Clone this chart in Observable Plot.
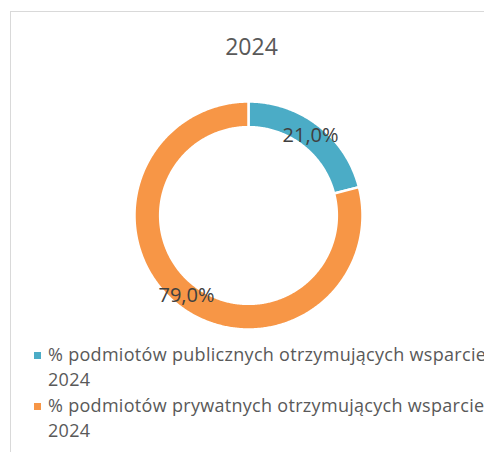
<!DOCTYPE html>
<html><head><meta charset="utf-8">
<script src="https://cdn.jsdelivr.net/npm/d3@7"></script>
<script src="https://cdn.jsdelivr.net/npm/@observablehq/plot@0.6"></script>
<style>
html,body{margin:0;padding:0;background:#fff;}
body{width:484px;height:452px;overflow:hidden;position:relative;font-family:"Open Sans",sans-serif;}
#frame{position:absolute;left:10px;top:11px;width:540px;height:480px;border:1px solid #d9d9d9;box-sizing:border-box;}
#title{position:absolute;left:0;width:503px;top:35px;text-align:center;font-size:23px;line-height:23px;color:#595959;}
#chart{position:absolute;left:0;top:90px;}
#legend{position:absolute;left:0;top:341.8px;}
.item{position:relative;padding-left:48px;white-space:nowrap;font-size:18px;line-height:25.5px;letter-spacing:0.3px;color:#595959;}
.sw{position:absolute;left:34px;top:10px;width:7px;height:7px;}
</style>
</head><body>
<div id="frame"></div>
<div id="title"></div>
<div id="chart"></div>
<div id="legend"></div>
<script>
const title = "2024";
const categories = [
  "% podmiotów publicznych otrzymujących wsparcie 2024",
  "% podmiotów prywatnych otrzymujących wsparcie 2024"
];
const values = [21.0, 79.0];
const colors = ["#4BACC6", "#F79646"];

document.getElementById("title").textContent = title;

const arcs = d3.pie().sort(null)(values);
const outerR = 1.0, innerR = 0.775;
const ringPts = [];
arcs.forEach((a, i) => {
  const name = categories[i];
  const n = Math.max(2, Math.ceil((a.endAngle - a.startAngle) / 0.01));
  const pts = [];
  for (let k = 0; k <= n; k++) {
    const t = a.startAngle + (a.endAngle - a.startAngle) * k / n;
    pts.push({name, x: outerR * Math.sin(t), y: outerR * Math.cos(t)});
  }
  for (let k = n; k >= 0; k--) {
    const t = a.startAngle + (a.endAngle - a.startAngle) * k / n;
    pts.push({name, x: innerR * Math.sin(t), y: innerR * Math.cos(t)});
  }
  pts.push({...pts[0]});
  ringPts.push(...pts);
});
const labels = arcs.map((a, i) => {
  const m = (a.startAngle + a.endAngle) / 2, r = (outerR + innerR) / 2;
  return {name: categories[i], x: r * Math.sin(m), y: r * Math.cos(m),
          text: values[i].toFixed(1).replace(".", ",") + "%"};
});

const cx = 248, cy = 125, R = 114;
const plot = Plot.plot({
  width: 484, height: 250,
  margin: 0,
  x: {domain: [-1, 1], range: [cx - R, cx + R], axis: null},
  y: {domain: [-1, 1], range: [cy + R, cy - R], axis: null},
  color: {domain: categories, range: colors},
  style: {fontFamily: "'Open Sans', sans-serif", background: "transparent", overflow: "visible"},
  marks: [
    Plot.line(ringPts, {x: "x", y: "y", z: "name", fill: "name", stroke: "white", strokeWidth: 2.5, curve: "linear"}),
    Plot.text(labels, {x: "x", y: "y", text: "text", fontSize: 20, fill: "#404040"})
  ]
});
document.getElementById("chart").appendChild(plot);

const legend = document.getElementById("legend");
categories.forEach((c, i) => {
  const words = c.split(" ");
  const last = words.pop();
  const div = document.createElement("div");
  div.className = "item";
  const sw = document.createElement("span");
  sw.className = "sw";
  sw.style.background = colors[i];
  div.appendChild(sw);
  div.appendChild(document.createTextNode(words.join(" ")));
  div.appendChild(document.createElement("br"));
  div.appendChild(document.createTextNode(last));
  legend.appendChild(div);
});
</script>
</body></html>
